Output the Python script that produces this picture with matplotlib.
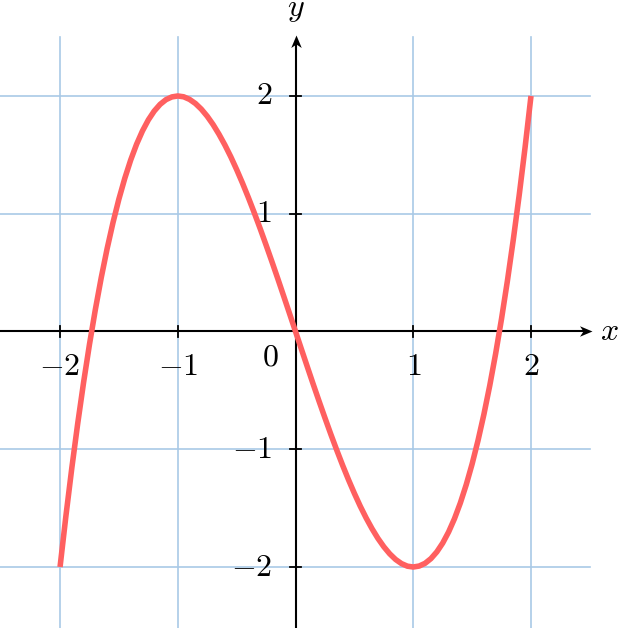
import matplotlib.pyplot as plt
import numpy as np
from matplotlib.path import Path

plt.rcParams['mathtext.fontset'] = 'cm'

# points
xs = [-2.00, -1.95, -1.90, -1.85, -1.80, -1.75, -1.70, -1.65, -1.60, -1.55,
      -1.50, -1.45, -1.40, -1.35, -1.30, -1.25, -1.20, -1.15, -1.10, -1.05,
      -1.00, -0.95, -0.90, -0.85, -0.80, -0.75, -0.70, -0.65, -0.60, -0.55,
      -0.50, -0.45, -0.40, -0.35, -0.30, -0.25, -0.20, -0.15, -0.10, -0.05,
      0.00, 0.05, 0.10, 0.15, 0.20, 0.25, 0.30, 0.35, 0.40, 0.45,
      0.50, 0.55, 0.60, 0.65, 0.70, 0.75, 0.80, 0.85, 0.90, 0.95,
      1.00, 1.05, 1.10, 1.15, 1.20, 1.25, 1.30, 1.35, 1.40, 1.45,
      1.50, 1.55, 1.60, 1.65, 1.70, 1.75, 1.80, 1.85, 1.90, 1.95, 2.00]
ys = [-2.000, -1.565, -1.159, -0.782, -0.432, -0.109, 0.187, 0.458, 0.704, 0.926,
      1.125, 1.301, 1.456, 1.590, 1.703, 1.797, 1.872, 1.929, 1.969, 1.992,
      2.000, 1.993, 1.971, 1.936, 1.888, 1.828, 1.757, 1.675, 1.584, 1.484,
      1.375, 1.259, 1.136, 1.007, 0.873, 0.734, 0.592, 0.447, 0.299, 0.150,
      0.000, -0.150, -0.299, -0.447, -0.592, -0.734, -0.873, -1.007, -1.136, -1.259,
      -1.375, -1.484, -1.584, -1.675, -1.757, -1.828, -1.888, -1.936, -1.971, -1.993,
      -2.000, -1.992, -1.969, -1.929, -1.872, -1.797, -1.703, -1.590, -1.456, -1.301,
      -1.125, -0.926, -0.704, -0.458, -0.187, 0.109, 0.432, 0.782, 1.159, 1.565, 2.000]
xticks = [-2, -1, 1, 2]
yticks = [-2, -1, 1, 2]
grid_vals = [-2, -1, 1, 2]

fig = plt.figure(figsize=(6.24, 6.28), dpi=100)
ax = fig.add_axes([0, 0, 1, 1])
ax.set_xlim(-2.51, 2.79)
ax.set_ylim(-2.518, 2.815)
ax.axis('off')

gc = '#a9c9e6'
for g in grid_vals:
    ax.plot([g, g], [-2.55, 2.5], color=gc, lw=1.2, zorder=1)
    ax.plot([-2.55, 2.5], [g, g], color=gc, lw=1.2, zorder=1)

# axes lines with stealth-like arrow heads
ax.plot([-2.55, 2.47], [0, 0], color='black', lw=1.5, zorder=2)
ax.plot([0, 0], [-2.55, 2.47], color='black', lw=1.5, zorder=2)
head = [(0, 0), (-1, 0.42), (-0.72, 0), (-1, -0.42), (0, 0)]
codes = [Path.MOVETO, Path.LINETO, Path.LINETO, Path.LINETO, Path.CLOSEPOLY]
right = Path(head, codes)
up = Path([(-y, x) for x, y in head], codes)
ax.plot([2.52], [0], marker=right, ms=18, color='black', mew=0, zorder=2)
ax.plot([0], [2.515], marker=up, ms=18, color='black', mew=0, zorder=2)

tl = 0.045
fs = 23
for t in xticks:
    ax.plot([t, t], [-tl, tl], color='black', lw=1.3, zorder=2)
    ax.text(t, -0.3, f'${t}$', ha='center', va='center', fontsize=fs)
for t in yticks:
    ax.plot([-tl, tl], [t, t], color='black', lw=1.3, zorder=2)
    ax.text(-0.2, t, f'${t}$', ha='right', va='center', fontsize=fs)
ax.text(-0.21, -0.22, '$0$', ha='center', va='center', fontsize=fs)
ax.text(2.67, 0, '$x$', ha='center', va='center', fontsize=fs)
ax.text(0, 2.68, '$y$', ha='center', va='baseline', fontsize=fs)

ax.plot(xs, ys, color='#ff6060', lw=4.0, solid_capstyle='butt', zorder=3)

fig.savefig('out.png', dpi=100)
